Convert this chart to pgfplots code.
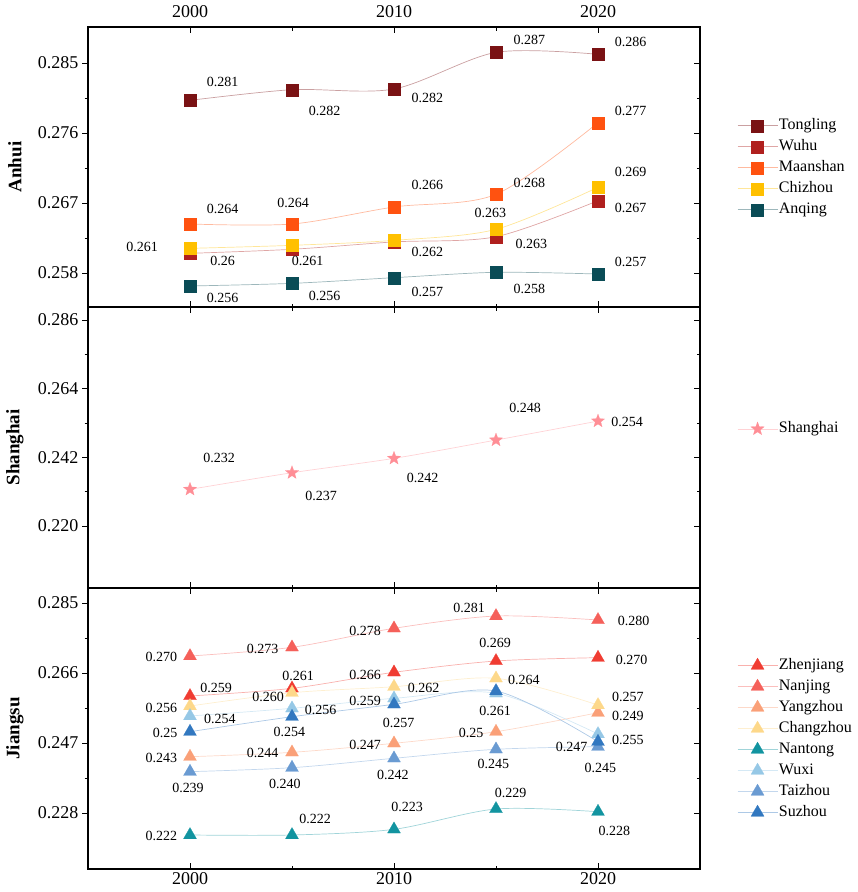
\documentclass[border=0pt]{standalone}
\usepackage{pgfplots}
\pgfplotsset{compat=1.18}
\usepackage{pgfplotstable}
\usepackage{fontspec}
\setmainfont{Liberation Serif}

\definecolor{cTongling}{RGB}{122,18,20}
\definecolor{cWuhu}{RGB}{176,32,30}
\definecolor{cMaanshan}{RGB}{255,82,16}
\definecolor{cChizhou}{RGB}{255,192,0}
\definecolor{cAnqing}{RGB}{10,76,86}
\definecolor{cShanghai}{RGB}{255,142,150}
\definecolor{cZhenjiang}{RGB}{240,60,50}
\definecolor{cNanjing}{RGB}{245,96,90}
\definecolor{cYangzhou}{RGB}{250,160,120}
\definecolor{cChangzhou}{RGB}{253,216,138}
\definecolor{cNantong}{RGB}{18,148,160}
\definecolor{cWuxi}{RGB}{150,200,230}
\definecolor{cTaizhou}{RGB}{106,155,210}
\definecolor{cSuzhou}{RGB}{50,120,192}

\newcommand{\labfont}{\fontsize{14}{16}\selectfont}
\newcommand{\tickfont}{\fontsize{18}{20}\selectfont}
\newcommand{\legfont}{\fontsize{16}{18}\selectfont}
\newcommand{\axlabfont}{\fontsize{19}{22}\selectfont\bfseries}

% filled five-pointed star
\pgfdeclareplotmark{fstar}{%
  \pgfpathmoveto{\pgfpointpolar{90}{\pgfplotmarksize}}%
  \pgfpathlineto{\pgfpointpolar{126}{0.42\pgfplotmarksize}}%
  \pgfpathlineto{\pgfpointpolar{162}{\pgfplotmarksize}}%
  \pgfpathlineto{\pgfpointpolar{198}{0.42\pgfplotmarksize}}%
  \pgfpathlineto{\pgfpointpolar{234}{\pgfplotmarksize}}%
  \pgfpathlineto{\pgfpointpolar{270}{0.42\pgfplotmarksize}}%
  \pgfpathlineto{\pgfpointpolar{306}{\pgfplotmarksize}}%
  \pgfpathlineto{\pgfpointpolar{342}{0.42\pgfplotmarksize}}%
  \pgfpathlineto{\pgfpointpolar{18}{\pgfplotmarksize}}%
  \pgfpathlineto{\pgfpointpolar{54}{0.42\pgfplotmarksize}}%
  \pgfpathclose
  \pgfusepathqfillstroke}

% ---------- Anhui ----------
\pgfplotstableread{
x y lab dx dy
2000 0.28020 0.281 32.5 18.3
2005 0.28157 0.282 32.5 -21
2010 0.28166 0.282 33.3 -9.3
2015 0.28637 0.287 33.3 12.3
2020 0.28612 0.286 32.5 12
}\tongling
\pgfplotstableread{
x y lab dx dy
2000 0.26053 0.26 32.5 -7.3
2005 0.26105 0.261 15.7 -11.3
2010 0.26200 {} 0 0
2015 0.26267 0.263 35.3 -7.7
2020 0.26730 0.267 32.5 -7
}\wuhu
\pgfplotstableread{
x y lab dx dy
2000 0.26430 0.264 32.5 15
2005 0.26430 0.264 1.1 20.7
2010 0.26649 0.266 33.3 22.3
2015 0.26812 0.268 33.3 11.7
2020 0.27733 0.277 32.5 12
}\maanshan
\pgfplotstableread{
x y lab dx dy
2000 0.26117 0.261 -48 1.3
2005 0.26156 {} 0 0
2010 0.26220 0.262 33.3 -11.3
2015 0.26362 0.263 -5.7 16.7
2020 0.26902 0.269 32.5 15
}\chizhou
\pgfplotstableread{
x y lab dx dy
2000 0.25633 0.256 32.5 -12.3
2005 0.25667 0.256 32.5 -12.7
2010 0.25740 0.257 33.3 -14
2015 0.25809 0.258 33.3 -16.7
2020 0.25787 0.257 32.5 12.3
}\anqing
% ---------- Shanghai ----------
\pgfplotstableread{
x y lab dx dy
2000 0.23175 0.232 29 31
2005 0.23707 0.237 29 -23.3
2010 0.24168 0.242 28.7 -20
2015 0.24754 0.248 29 31.7
2020 0.25362 0.254 29 -0.7
}\shanghai
% ---------- Jiangsu ----------
\pgfplotstableread{
x y lab dx dy
2000 0.25976 0.259 26 7.7
2005 0.26184 0.261 6.1 12.7
2010 0.26619 0.266 -29 -2.7
2015 0.26926 0.269 -0.8 17.7
2020 0.27016 0.270 33.7 -2.3
}\zhenjiang
\pgfplotstableread{
x y lab dx dy
2000 0.27061 0.270 -28.7 -0.7
2005 0.27297 0.273 -29.5 -1.3
2010 0.27813 0.278 -29 -2.3
2015 0.28147 0.281 -26.8 7.7
2020 0.28039 0.280 35.6 -1
}\nanjing
\pgfplotstableread{
x y lab dx dy
2000 0.24328 0.243 -28.7 -1.7
2005 0.24447 0.244 -29.5 -1
2010 0.24692 0.247 -29 -1.7
2015 0.25007 0.25 -24.9 -1.7
2020 0.25523 0.249 29.9 -3.3
}\yangzhou
\pgfplotstableread{
x y lab dx dy
2000 0.25704 0.256 -28.7 -2.3
2005 0.26065 0.260 -23.8 -4.7
2010 0.26228 0.262 29.5 -1.7
2015 0.26456 0.264 27.9 -1.7
2020 0.25731 0.257 29.9 7.7
}\changzhou
\pgfplotstableread{
x y lab dx dy
2000 0.22203 0.222 -28.7 -1
2005 0.22203 0.222 23 15.7
2010 0.22357 0.223 13 22
2015 0.22909 0.229 14.6 16.3
2020 0.22835 0.228 16.4 -19
}\nantong
\pgfplotstableread{
x y lab dx dy
2000 0.25433 0.254 29.9 -3
2005 0.25642 0.256 28.7 -1.7
2010 0.25913 0.259 -29 -2.7
2015 0.26050 {} 0 0
2020 0.24944 0.255 29.9 -6
}\wuxi
\pgfplotstableread{
x y lab dx dy
2000 0.23922 0.239 -2 -16.7
2005 0.24030 0.240 -7.2 -16.3
2010 0.24285 0.242 -1.1 -16.7
2015 0.24529 0.245 -2.6 -14.7
2020 0.24600 0.245 2.3 -21
}\taizhou
\pgfplotstableread{
x y lab dx dy
2000 0.25007 0.25 -24.9 -1
2005 0.25414 0.254 -2.6 -15
2010 0.25750 0.257 4.6 -19
2015 0.26111 0.261 -0.8 -19.7
2020 0.24736 0.247 -26.4 -5
}\suzhou

\pgfplotsset{
  ser/.style={color=#1!40, line width=0.7pt, smooth,
    mark options={fill=#1, draw=#1, solid, line width=0.2pt},
    nodes near coords, point meta=explicit symbolic,
    visualization depends on={\thisrow{dx}\as\myDX},
    visualization depends on={\thisrow{dy}\as\myDY},
    every node near coord/.style={anchor=center, xshift=\myDX pt, yshift=\myDY pt,
      font=\labfont, text=black, inner sep=0pt},
  },
  ticks/.style={
    major tick length=6pt, minor tick length=3.5pt,
    every tick/.style={black, line width=0.9pt},
    axis line style={line width=1.1pt, black},
    minor y tick num=1,
  },
  common/.style={
    ticks,
    scale only axis, width=612pt,
    xmin=1995, xmax=2025,
    xtick={2000,2010,2020}, minor xtick={2005,2015},
    tick label style={font=\tickfont},
    xticklabel shift=6pt,
    xtick align=inside, ytick align=outside,
    ytick pos=left,
    clip=false,
    every axis y label/.style={at={(axis description cs:-0.1193,0.5)}, rotate=90, anchor=center, font=\axlabfont},
    legend cell align=left,
    legend style={draw=none, fill=none, font=\legfont, anchor=west, inner sep=0pt,
      nodes={inner sep=1pt, text height=11pt, text depth=3pt}, row sep=5pt},
    legend image code/.code={\draw[mark repeat=2,mark phase=2] plot coordinates {(0pt,0pt) (20pt,0pt) (40pt,0pt)};},
  },
  rightticks/.style={
    ticks,
    scale only axis, width=612pt,
    xmin=1995, xmax=2025,
    axis y line*=right, hide x axis,
    ytick align=inside, yticklabels={},
  },
}

\begin{document}
\begin{tikzpicture}
\useasboundingbox (0pt,-892pt) rectangle (858pt,0pt);

% ===== Anhui =====
\begin{axis}[common, at={(88pt,-27pt)}, anchor=north west, height=280pt,
  ymin=0.25363, ymax=0.28963,
  ytick={0.258,0.267,0.276,0.285}, yticklabels={0.258,0.267,0.276,0.285},
  xticklabel pos=right, xticklabels={2000,2010,2020},
  ylabel={Anhui},
  legend style={at={(axis description cs:1,0.497)}, xshift=37pt}]
\addplot[ser=cTongling, mark=square*, mark size=6pt] table[x=x,y=y,meta=lab] {\tongling};
\addlegendentry{Tongling}
\addplot[ser=cWuhu, mark=square*, mark size=6pt] table[x=x,y=y,meta=lab] {\wuhu};
\addlegendentry{Wuhu}
\addplot[ser=cMaanshan, mark=square*, mark size=6pt] table[x=x,y=y,meta=lab] {\maanshan};
\addlegendentry{Maanshan}
\addplot[ser=cChizhou, mark=square*, mark size=6pt] table[x=x,y=y,meta=lab] {\chizhou};
\addlegendentry{Chizhou}
\addplot[ser=cAnqing, mark=square*, mark size=6pt] table[x=x,y=y,meta=lab] {\anqing};
\addlegendentry{Anqing}
\end{axis}
\begin{axis}[rightticks, at={(88pt,-27pt)}, anchor=north west, height=280pt,
  ymin=0.25363, ymax=0.28963, ytick={0.258,0.267,0.276,0.285}]
\end{axis}

% ===== Shanghai =====
\begin{axis}[common, at={(88pt,-307pt)}, anchor=north west, height=281pt,
  ymin=0.20015, ymax=0.29016,
  ytick={0.220,0.242,0.264,0.286}, yticklabels={0.220,0.242,0.264,0.286},
  xticklabels={},
  ylabel={Shanghai},
  legend style={at={(axis description cs:1,0.566)}, xshift=37pt}]
\addplot[ser=cShanghai, mark=fstar, mark size=7pt] table[x=x,y=y,meta=lab] {\shanghai};
\addlegendentry{Shanghai}
\end{axis}
\begin{axis}[rightticks, at={(88pt,-307pt)}, anchor=north west, height=281pt,
  ymin=0.20015, ymax=0.29016, ytick={0.220,0.242,0.264,0.286}]
\end{axis}

% ===== Jiangsu =====
\begin{axis}[common, at={(88pt,-588pt)}, anchor=north west, height=281pt,
  ymin=0.2128, ymax=0.28907,
  ytick={0.228,0.247,0.266,0.285}, yticklabels={0.228,0.247,0.266,0.285},
  xticklabel pos=left, xticklabels={2000,2010,2020},
  xticklabel shift=0pt,
  ylabel={Jiangsu},
  legend style={at={(axis description cs:1,0.4626)}, xshift=37pt}]
\addplot[ser=cZhenjiang, mark=triangle*, mark size=7.5pt] table[x=x,y=y,meta=lab] {\zhenjiang};
\addlegendentry{Zhenjiang}
\addplot[ser=cNanjing, mark=triangle*, mark size=7.5pt] table[x=x,y=y,meta=lab] {\nanjing};
\addlegendentry{Nanjing}
\addplot[ser=cYangzhou, mark=triangle*, mark size=7.5pt] table[x=x,y=y,meta=lab] {\yangzhou};
\addlegendentry{Yangzhou}
\addplot[ser=cChangzhou, mark=triangle*, mark size=7.5pt] table[x=x,y=y,meta=lab] {\changzhou};
\addlegendentry{Changzhou}
\addplot[ser=cNantong, mark=triangle*, mark size=7.5pt] table[x=x,y=y,meta=lab] {\nantong};
\addlegendentry{Nantong}
\addplot[ser=cWuxi, mark=triangle*, mark size=7.5pt] table[x=x,y=y,meta=lab] {\wuxi};
\addlegendentry{Wuxi}
\addplot[ser=cTaizhou, mark=triangle*, mark size=7.5pt] table[x=x,y=y,meta=lab] {\taizhou};
\addlegendentry{Taizhou}
\addplot[ser=cSuzhou, mark=triangle*, mark size=7.5pt] table[x=x,y=y,meta=lab] {\suzhou};
\addlegendentry{Suzhou}
\end{axis}
\begin{axis}[rightticks, at={(88pt,-588pt)}, anchor=north west, height=281pt,
  ymin=0.2128, ymax=0.28907, ytick={0.228,0.247,0.266,0.285}]
\end{axis}
\end{tikzpicture}
\end{document}
